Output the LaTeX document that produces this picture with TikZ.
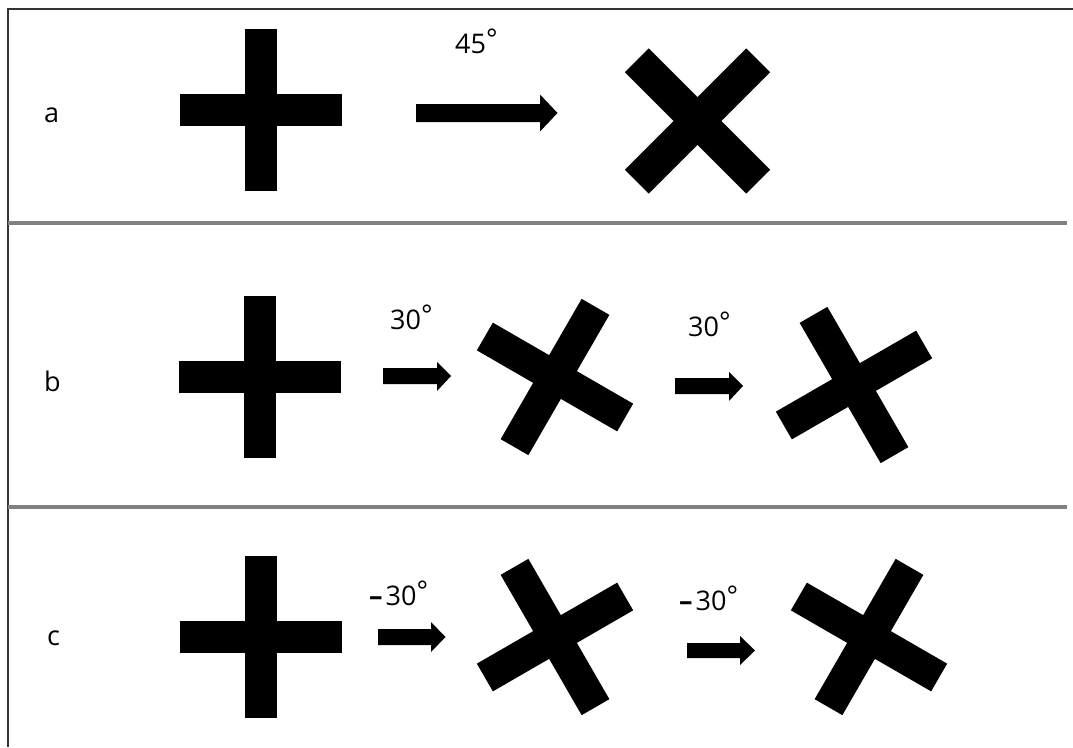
\documentclass[tikz,border=0pt]{standalone}
\usepackage{fontspec}
\setmainfont{Open Sans}

\tikzset{
  plus/.pic={
    \fill (-81,-16) rectangle (81,16);
    \fill (-16,-81) rectangle (16,81);
  },
  sep/.style={line width=4.5pt,draw=black!50},
  frame/.style={line width=1.4pt,draw=black!80},
  lbl/.style={anchor=base west,inner sep=0pt,font=\fontsize{27}{30}\selectfont}
}
\newcommand{\degsign}{\raisebox{5pt}{°}}
\newcommand{\negsign}{\textbf{\textendash}\hspace{3pt}}

\begin{document}
\begin{tikzpicture}[x=1pt,y=-1pt,line cap=butt,line join=miter]
  \useasboundingbox (0,0) rectangle (1073,747);
  % frame and separators
  \draw[frame] (8,747) -- (8,9) -- (1073,9);
  \foreach \y in {223,507} {
    \draw[sep] (8,\y) -- (1067,\y);
  }
  % row labels
  \node[lbl] (la) at (44,122) {a};
  \node[lbl] (lb) at (44,391) {b};
  \node[lbl] (lc) at (47,645) {c};
  % row a
  \pic at (261,110) {plus};
  \fill (416,104) -- (540,104) -- (540,94.5) -- (557.5,113) -- (540,131.5) -- (540,122) -- (416,122) -- cycle;
  \node[lbl] (ta) at (455,53) {45\degsign};
  \pic[rotate=45,scale=1.06] at (697.5,121) {plus};
  % row b
  \pic at (260,376.5) {plus};
  \fill (383,368) -- (437,368) -- (437,362) -- (451,376) -- (437,391) -- (437,384) -- (383,384) -- cycle;
  \node[lbl] (tb1) at (390,329) {30\degsign};
  \pic[rotate=-30] at (555,377) {plus};
  \fill (675,378) -- (729,378) -- (729,372) -- (743,386) -- (729,401) -- (729,394) -- (675,394) -- cycle;
  \node[lbl] (tb2) at (688,336) {30\degsign};
  \pic[rotate=30] at (854,385) {plus};
  % row c
  \pic at (261,636.5) {plus};
  \fill (378,629) -- (431,629) -- (431,622) -- (445.5,637) -- (431,652) -- (431,645) -- (378,645) -- cycle;
  \node[lbl] (tc1) at (369,605) {\negsign 30\degsign};
  \pic[rotate=30] at (555,637) {plus};
  \fill (687,643) -- (740,643) -- (740,636) -- (755,650.5) -- (740,665) -- (740,658) -- (687,658) -- cycle;
  \node[lbl] (tc2) at (679,610) {\negsign 30\degsign};
  \pic[rotate=-30] at (869,637) {plus};
\end{tikzpicture}
\end{document}
